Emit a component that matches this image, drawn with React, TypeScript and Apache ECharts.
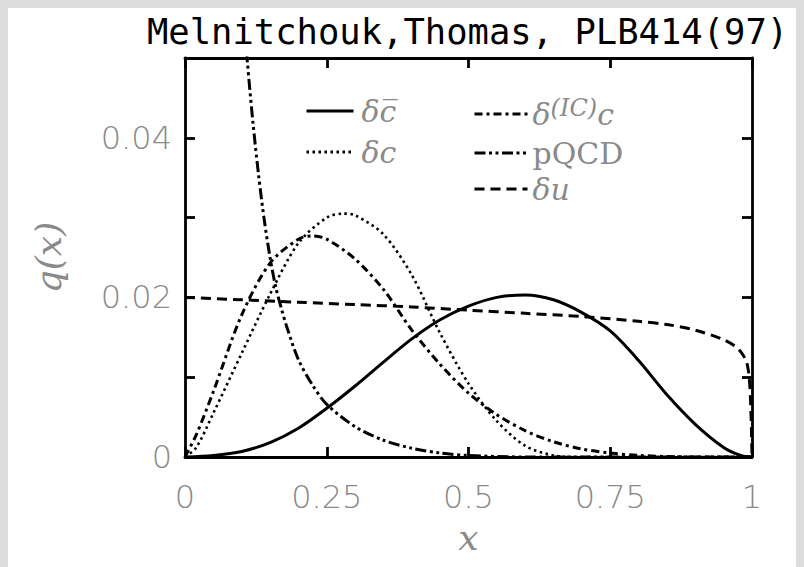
import React, { useEffect, useRef } from 'react';
import * as echarts from 'echarts';

const titleText = 'Melnitchouk,Thomas, PLB414(97)';
const yLabelTicks = [0, 0.02, 0.04];

const nameCbar = 'δc\u0305';
const nameC = 'δc';
const nameIC = 'δ(IC)c';
const namePQCD = 'pQCD';
const nameU = 'δu';

const cbarData = [
  [0, 0], [0.05, 0.0002], [0.1, 0.0007], [0.15, 0.0018], [0.2, 0.0036], [0.25, 0.0061],
  [0.3, 0.0089], [0.35, 0.0119], [0.4, 0.0148], [0.45, 0.0172], [0.5, 0.0189], [0.55, 0.02],
  [0.6, 0.0203], [0.65, 0.0197], [0.7, 0.0181], [0.75, 0.0158], [0.8, 0.0121], [0.85, 0.0078],
  [0.9, 0.0041], [0.95, 0.0012], [0.98, 0.0002], [1, 0],
];
const cData = [
  [0, 0], [0.02, 0.0012], [0.05, 0.0055], [0.1, 0.013], [0.15, 0.0204], [0.2, 0.0268],
  [0.25, 0.03], [0.28, 0.0305], [0.3, 0.0303], [0.35, 0.0279], [0.4, 0.0228], [0.45, 0.0155],
  [0.5, 0.0092], [0.55, 0.0045], [0.6, 0.0014], [0.65, 0.0002], [0.7, 0], [1, 0],
];
const icData = [
  [0, 0], [0.02, 0.0028], [0.05, 0.0082], [0.1, 0.0178], [0.15, 0.0243], [0.2, 0.0273],
  [0.225, 0.0277], [0.25, 0.0273], [0.3, 0.0248], [0.35, 0.021], [0.4, 0.0159], [0.45, 0.0116],
  [0.5, 0.008], [0.55, 0.0053], [0.6, 0.0033], [0.65, 0.0019], [0.7, 0.001], [0.75, 0.0005],
  [0.8, 0.0002], [0.9, 0], [1, 0],
];
const pqcdData = [
  [0.09, 0.068], [0.1, 0.058], [0.11, 0.0495], [0.12, 0.0418], [0.13, 0.0352], [0.14, 0.0296],
  [0.15, 0.025], [0.16, 0.0213], [0.17, 0.0186], [0.18, 0.0162], [0.2, 0.0122], [0.225, 0.009],
  [0.25, 0.0066], [0.3, 0.0038], [0.35, 0.0021], [0.4, 0.0011], [0.45, 0.0005], [0.5, 0.0002],
  [0.6, 0], [1, 0],
];
const uData = [
  [0, 0.02], [0.1, 0.0197], [0.2, 0.0194], [0.3, 0.0191], [0.4, 0.0188], [0.5, 0.0184],
  [0.6, 0.018], [0.7, 0.0176], [0.8, 0.017], [0.85, 0.0166], [0.9, 0.0159], [0.95, 0.0147],
  [0.97, 0.0139], [0.98, 0.0132], [0.99, 0.012], [0.995, 0.01], [0.998, 0.006], [1, 0],
];

export default function App() {
  const ref = useRef<HTMLDivElement>(null);
  useEffect(() => {
    document.body.style.background = '#dcdcdc';
    const chart = echarts.init(ref.current!, null, { renderer: 'svg' });
    const black = '#000';
    const grey = '#8a8a8a';
    const frameLine = { show: true, onZero: false, lineStyle: { color: black, width: 2.8 } };
    const tick = { show: true, inside: true, length: 10, lineStyle: { color: black, width: 2.8 } };
    const labelFont = { fontFamily: 'DejaVu Sans', fontSize: 32, fontWeight: 200, color: grey };
    const serif = { fontFamily: 'DejaVu Serif', color: grey };
    const rich = {
      i: { ...serif, fontSize: 30, fontStyle: 'italic', lineHeight: 32 },
      r: { ...serif, fontSize: 30, lineHeight: 32 },
      s: { ...serif, fontSize: 24, fontStyle: 'italic', lineHeight: 18, padding: [0, 0, 12, 0] },
      p1: { width: 3, lineHeight: 32 },
      p2: { width: 0, lineHeight: 32 },
    };
    const mkLine = (name: string, data: number[][], type: any, width = 3) => ({
      name,
      type: 'line',
      data,
      symbol: 'none',
      smooth: 0.3,
      clip: true,
      color: black,
      itemStyle: { color: black },
      lineStyle: { color: black, width, type },
    });
    const legendCommon = {
      orient: 'vertical',
      top: 83,
      itemHeight: 36,
      selectedMode: false,
      itemStyle: { opacity: 0 },
      lineStyle: { width: 3 },
      textStyle: { rich },
    };
    chart.setOption({
      animation: false,
      title: {
        text: titleText,
        left: 134,
        top: 0,
        textStyle: { fontFamily: 'DejaVu Sans Mono', fontSize: 35.5, fontWeight: 'normal', color: black },
      },
      grid: { left: 177, top: 50, right: 52, bottom: 110, containLabel: false },
      legend: [
        {
          ...legendCommon,
          data: [nameCbar, nameC],
          left: 292,
          itemWidth: 47,
          itemGap: 11,
          formatter: (n: string) => (n === nameCbar ? '{p1|}{i|δc\u0305}' : '{p1|}{i|δc}'),
        },
        {
          ...legendCommon,
          data: [nameIC, namePQCD, nameU],
          left: 460,
          itemWidth: 53,
          itemGap: 6,
          formatter: (n: string) => {
            if (n === nameIC) return '{p2|}{i|δ}{s|(IC)}{i|c}';
            if (n === namePQCD) return '{p2|}{r|pQCD}';
            return '{p2|}{i|δu}';
          },
        },
      ],
      xAxis: [
        {
          type: 'value',
          min: 0,
          max: 1,
          interval: 0.25,
          position: 'bottom',
          axisLine: frameLine,
          axisTick: tick,
          splitLine: { show: false },
          axisLabel: { ...labelFont, margin: 24, formatter: (v: number) => String(v) },
          name: 'x',
          nameLocation: 'middle',
          nameGap: 62,
          nameTextStyle: { ...serif, fontSize: 36, fontStyle: 'italic' },
        },
        {
          type: 'value',
          min: 0,
          max: 1,
          interval: 0.25,
          position: 'top',
          axisLine: frameLine,
          axisTick: tick,
          splitLine: { show: false },
          axisLabel: { show: false },
        },
      ],
      yAxis: [
        {
          type: 'value',
          min: 0,
          max: 0.05,
          interval: 0.01,
          position: 'left',
          axisLine: frameLine,
          axisTick: tick,
          splitLine: { show: false },
          axisLabel: {
            ...labelFont,
            margin: 13,
            formatter: (v: number) => {
              const t = yLabelTicks.find((k) => Math.abs(k - v) < 1e-9);
              return t === undefined ? '' : String(t);
            },
          },
          name: 'q(x)',
          nameLocation: 'middle',
          nameGap: 119,
          nameRotate: 90,
          nameTextStyle: { ...serif, fontSize: 36, fontStyle: 'italic' },
        },
        {
          type: 'value',
          min: 0,
          max: 0.05,
          interval: 0.01,
          position: 'right',
          axisLine: frameLine,
          axisTick: tick,
          splitLine: { show: false },
          axisLabel: { show: false },
        },
      ],
      series: [
        mkLine(nameCbar, cbarData, 'solid'),
        mkLine(nameC, cData, [2.5, 3.5], 2.6),
        mkLine(nameIC, icData, [8, 4, 3, 4]),
        mkLine(namePQCD, pqcdData, [11, 3.5, 3, 3.5, 3, 3.5]),
        mkLine(nameU, uData, [10, 6]),
      ],
    });
    return () => chart.dispose();
  }, []);
  return <div ref={ref} style={{ width: 796, height: 559, background: '#fff' }} />;
}
